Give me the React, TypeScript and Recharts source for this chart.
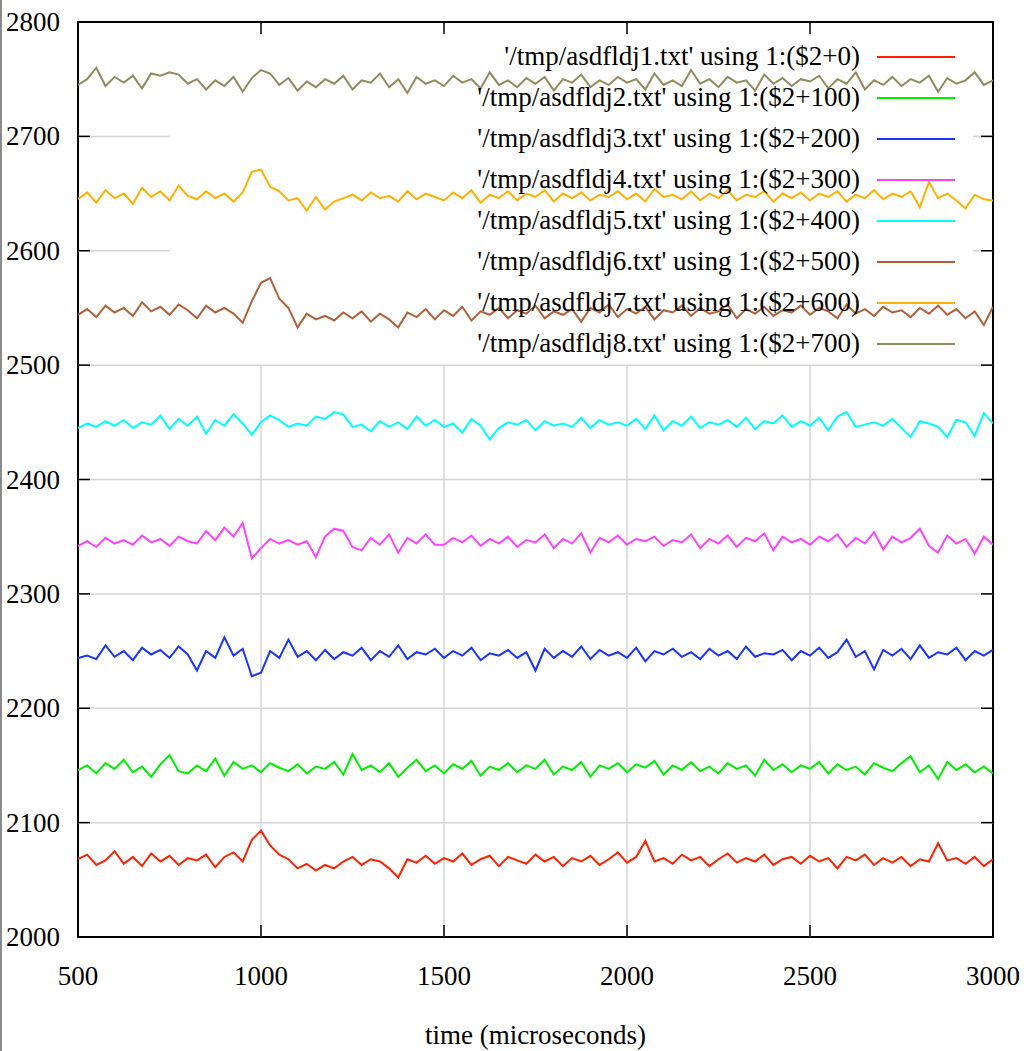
import { LineChart, Line, XAxis, YAxis, ReferenceLine, ReferenceArea, Legend } from "recharts";

// sample times (microseconds)
const times = [
  500, 525, 550, 575, 600, 625, 650, 675, 700, 725,
  750, 775, 800, 825, 850, 875, 900, 925, 950, 975,
  1000, 1025, 1050, 1075, 1100, 1125, 1150, 1175, 1200, 1225,
  1250, 1275, 1300, 1325, 1350, 1375, 1400, 1425, 1450, 1475,
  1500, 1525, 1550, 1575, 1600, 1625, 1650, 1675, 1700, 1725,
  1750, 1775, 1800, 1825, 1850, 1875, 1900, 1925, 1950, 1975,
  2000, 2025, 2050, 2075, 2100, 2125, 2150, 2175, 2200, 2225,
  2250, 2275, 2300, 2325, 2350, 2375, 2400, 2425, 2450, 2475,
  2500, 2525, 2550, 2575, 2600, 2625, 2650, 2675, 2700, 2725,
  2750, 2775, 2800, 2825, 2850, 2875, 2900, 2925, 2950, 2975,
  3000,
];

const file1 = [
  2068, 2072, 2063, 2067, 2075, 2064, 2070, 2062, 2073, 2066,
  2071, 2063, 2069, 2067, 2072, 2061, 2070, 2074, 2066, 2085,
  2093, 2080, 2072, 2068, 2060, 2064, 2058, 2063, 2060, 2066,
  2070, 2063, 2068, 2066, 2060, 2052, 2068, 2065, 2071, 2064,
  2069, 2066, 2073, 2063, 2068, 2071, 2062, 2070, 2067, 2064,
  2072, 2066, 2070, 2062, 2069, 2066, 2071, 2063, 2068, 2074,
  2065, 2070, 2084, 2066, 2069, 2064, 2072, 2067, 2070, 2062,
  2068, 2073, 2065, 2069, 2066, 2072, 2063, 2068, 2070, 2064,
  2071, 2066, 2069, 2060, 2070, 2067, 2072, 2063, 2069, 2065,
  2070, 2062, 2068, 2066, 2082, 2067, 2069, 2064, 2070, 2062,
  2068,
];

const file2 = [
  2146, 2150, 2143, 2152, 2147, 2155, 2144, 2149, 2140, 2151,
  2159, 2145, 2143, 2150, 2145, 2156, 2141, 2153, 2147, 2150,
  2144, 2152, 2148, 2145, 2151, 2143, 2149, 2147, 2153, 2142,
  2160, 2146, 2150, 2144, 2152, 2140, 2148, 2155, 2145, 2150,
  2143, 2151, 2147, 2154, 2141, 2149, 2146, 2152, 2144, 2150,
  2147, 2155, 2142, 2149, 2146, 2153, 2140, 2150, 2147, 2152,
  2144, 2151, 2148, 2154, 2142, 2150, 2146, 2153, 2145, 2149,
  2143, 2152, 2147, 2150, 2141, 2155, 2146, 2151, 2144, 2150,
  2147, 2153, 2143, 2151, 2146, 2149, 2142, 2152, 2148, 2145,
  2152, 2158, 2144, 2150, 2138, 2153, 2146, 2151, 2144, 2149,
  2143,
];

const file3 = [
  2244, 2246, 2243, 2255, 2245, 2250, 2242, 2253, 2247, 2251,
  2244, 2254, 2247, 2233, 2250, 2244, 2262, 2246, 2252, 2228,
  2231, 2250, 2244, 2260, 2245, 2250, 2242, 2251, 2243, 2249,
  2246, 2253, 2242, 2250, 2245, 2255, 2243, 2249, 2247, 2252,
  2244, 2250, 2246, 2253, 2242, 2248, 2246, 2251, 2244, 2249,
  2233, 2252, 2244, 2250, 2245, 2254, 2243, 2251, 2246, 2249,
  2244, 2253, 2241, 2250, 2247, 2252, 2245, 2249, 2243, 2252,
  2246, 2250, 2243, 2254, 2245, 2248, 2247, 2251, 2242, 2250,
  2246, 2253, 2244, 2249, 2260, 2245, 2250, 2234, 2251, 2246,
  2252, 2243, 2255, 2244, 2249, 2247, 2253, 2242, 2250, 2246,
  2251,
];

const file4 = [
  2342, 2346, 2341, 2349, 2344, 2347, 2343, 2351, 2345, 2348,
  2342, 2350, 2346, 2344, 2355, 2347, 2358, 2350, 2362, 2331,
  2340, 2348, 2344, 2347, 2343, 2346, 2332, 2350, 2357, 2355,
  2341, 2338, 2349, 2343, 2352, 2336, 2349, 2344, 2352, 2343,
  2343, 2349, 2345, 2351, 2342, 2348, 2344, 2350, 2341, 2347,
  2345, 2352, 2340, 2348, 2344, 2353, 2336, 2349, 2345, 2351,
  2343, 2348, 2346, 2350, 2342, 2347, 2345, 2352, 2340, 2348,
  2344, 2351, 2341, 2349, 2346, 2353, 2338, 2350, 2345, 2348,
  2343, 2350, 2346, 2352, 2341, 2349, 2344, 2354, 2339, 2350,
  2345, 2349, 2357, 2342, 2336, 2351, 2344, 2348, 2335, 2350,
  2343,
];

const file5 = [
  2445, 2449, 2446, 2451, 2447, 2452, 2445, 2450, 2448, 2456,
  2444, 2453, 2447, 2455, 2440, 2452, 2447, 2457, 2449, 2439,
  2450, 2456, 2452, 2446, 2449, 2447, 2455, 2453, 2459, 2457,
  2446, 2448, 2442, 2451, 2446, 2450, 2444, 2455, 2447, 2452,
  2446, 2449, 2441, 2453, 2447, 2435, 2445, 2450, 2448, 2452,
  2443, 2451, 2447, 2449, 2446, 2454, 2445, 2452, 2448, 2450,
  2447, 2453, 2444, 2456, 2443, 2451, 2447, 2455, 2445, 2450,
  2448, 2452, 2446, 2454, 2444, 2451, 2449, 2456, 2446, 2451,
  2447, 2454, 2443, 2455, 2459, 2446, 2448, 2450, 2447, 2453,
  2445, 2437, 2451, 2449, 2446, 2437, 2452, 2450, 2438, 2458,
  2449,
];

const file6 = [
  2544, 2549, 2542, 2552, 2546, 2550, 2543, 2555, 2547, 2551,
  2544, 2553, 2548, 2541, 2552, 2546, 2550, 2545, 2537, 2556,
  2572, 2576, 2558, 2550, 2533, 2545, 2540, 2543, 2539, 2546,
  2541, 2547, 2538, 2545, 2540, 2533, 2546, 2542, 2549, 2540,
  2548, 2543, 2551, 2539, 2547, 2544, 2550, 2541, 2548, 2545,
  2552, 2541, 2547, 2544, 2549, 2538, 2550, 2546, 2553, 2542,
  2549, 2545, 2551, 2540, 2548, 2546, 2552, 2543, 2550, 2545,
  2547, 2553, 2541, 2549, 2545, 2551, 2543, 2548, 2546, 2552,
  2544, 2550, 2547, 2541, 2553, 2545, 2549, 2543, 2551, 2546,
  2548, 2542, 2550, 2545, 2552, 2544, 2549, 2541, 2547, 2535,
  2551,
];

const file7 = [
  2645, 2651, 2642, 2653, 2646, 2650, 2641, 2655, 2647, 2652,
  2644, 2657, 2648, 2645, 2652, 2646, 2650, 2643, 2651, 2669,
  2671, 2656, 2652, 2644, 2646, 2635, 2647, 2636, 2643, 2646,
  2649, 2644, 2651, 2646, 2648, 2643, 2652, 2645, 2650, 2647,
  2644, 2651, 2646, 2653, 2642, 2649, 2646, 2652, 2644, 2650,
  2647, 2653, 2643, 2650, 2646, 2651, 2644, 2649, 2647, 2652,
  2645, 2650, 2643, 2654, 2647, 2649, 2645, 2652, 2644, 2650,
  2646, 2653, 2644, 2649, 2647, 2652, 2643, 2650, 2646, 2651,
  2644, 2650, 2647, 2652, 2643, 2649, 2646, 2653, 2645, 2650,
  2647, 2652, 2638, 2660, 2646, 2650, 2644, 2637, 2649, 2645,
  2644,
];

const file8 = [
  2745, 2750, 2760, 2744, 2752, 2747, 2753, 2742, 2755, 2753,
  2756, 2754, 2746, 2750, 2741, 2749, 2744, 2752, 2739, 2751,
  2758, 2755, 2745, 2751, 2740, 2748, 2743, 2750, 2746, 2753,
  2741, 2749, 2747, 2755, 2743, 2750, 2738, 2752, 2746, 2749,
  2744, 2753, 2747, 2750, 2742, 2756, 2745, 2749, 2743, 2751,
  2746, 2752, 2740, 2750, 2747, 2754, 2743, 2749, 2745, 2752,
  2747, 2750, 2741, 2755, 2745, 2749, 2744, 2758, 2746, 2750,
  2743, 2752, 2747, 2749, 2740, 2754, 2746, 2751, 2744, 2750,
  2748, 2753, 2742, 2750, 2746, 2756, 2741, 2749, 2745, 2752,
  2744, 2750, 2747, 2753, 2739, 2751, 2746, 2749, 2756, 2745,
  2749,
];

const seriesNames = [
  "'/tmp/asdfldj1.txt' using 1:($2+0)",
  "'/tmp/asdfldj2.txt' using 1:($2+100)",
  "'/tmp/asdfldj3.txt' using 1:($2+200)",
  "'/tmp/asdfldj4.txt' using 1:($2+300)",
  "'/tmp/asdfldj5.txt' using 1:($2+400)",
  "'/tmp/asdfldj6.txt' using 1:($2+500)",
  "'/tmp/asdfldj7.txt' using 1:($2+600)",
  "'/tmp/asdfldj8.txt' using 1:($2+700)",
];
const colors = ["#ff2200", "#00ee00", "#1a33ff", "#ff44ff", "#00ffff", "#b0603a", "#ffb000", "#8f8b5e"];
const xTicks = [500, 1000, 1500, 2000, 2500, 3000];
const yTicks = [2000, 2100, 2200, 2300, 2400, 2500, 2600, 2700, 2800];

const allFiles = [file1, file2, file3, file4, file5, file6, file7, file8];
const rows = times.map((t, i) => {
  const row: Record<string, number> = { t };
  allFiles.forEach((f, k) => (row["s" + k] = f[i]));
  return row;
});

const FONT = '"Liberation Serif", "Times New Roman", serif';
const FS = 27;
const PLOT_W = 915;
const PLOT_H = 915;
const GRID = "#d4d4d4";

const XTick = ({ x, y, payload }: any) => (
  <g>
    <line x1={x} y1={y} x2={x} y2={y - 12} stroke="#000" strokeWidth={1.5} />
    <line x1={x} y1={y - PLOT_H} x2={x} y2={y - PLOT_H + 12} stroke="#000" strokeWidth={1.5} />
    <text x={x} y={y + 39} textAnchor="middle" dominantBaseline="central" fontFamily={FONT} fontSize={FS} fill="#000">
      {payload.value}
    </text>
  </g>
);

const YTick = ({ x, y, payload }: any) => (
  <g>
    <line x1={x} y1={y} x2={x + 12} y2={y} stroke="#000" strokeWidth={1.5} />
    <line x1={x + PLOT_W} y1={y} x2={x + PLOT_W - 12} y2={y} stroke="#000" strokeWidth={1.5} />
    <text x={x - 18} y={y} textAnchor="end" dominantBaseline="central" fontFamily={FONT} fontSize={FS} fill="#000">
      {payload.value}
    </text>
  </g>
);

const KeyBox = ({ payload }: any) => (
  <div style={{ fontFamily: FONT, fontSize: FS, color: "#000" }}>
    {(payload || []).map((p: any) => (
      <div key={p.value} style={{ height: 41, display: "flex", alignItems: "center", justifyContent: "flex-end" }}>
        <span style={{ whiteSpace: "nowrap" }}>{p.value}</span>
        <span style={{ display: "inline-block", width: 78, height: 2, marginLeft: 17, background: p.color }} />
      </div>
    ))}
  </div>
);

export default function App() {
  return (
    <div style={{ position: "absolute", left: 0, top: 0, width: 1024, height: 1051, background: "#fff", overflow: "hidden" }}>
      <div style={{ position: "absolute", left: 0, top: 0, width: 2, height: 1051, background: "#8a8a8a" }} />
      <LineChart width={1024} height={1051} data={rows} margin={{ top: 22, right: 31, bottom: 0, left: 0 }}>
        <XAxis
          dataKey="t"
          type="number"
          domain={[500, 3000]}
          ticks={xTicks}
          allowDataOverflow
          height={114}
          axisLine={false}
          tickLine={false}
          tickSize={0}
          tickMargin={0}
          tick={<XTick />}
          interval={0}
        />
        <YAxis
          type="number"
          domain={[2000, 2800]}
          ticks={yTicks}
          allowDataOverflow
          width={78}
          axisLine={false}
          tickLine={false}
          tickSize={0}
          tickMargin={0}
          tick={<YTick />}
          interval={0}
        />
        {/* grid, kept clear of the key area like gnuplot does */}
        {[2100, 2200, 2300, 2400, 2500].map((v) => (
          <ReferenceLine key={"h" + v} y={v} stroke={GRID} strokeWidth={1.5} />
        ))}
        {[2600, 2700].map((v) => (
          <ReferenceLine key={"hl" + v} segment={[{ x: 500, y: v }, { x: 751, y: v }]} stroke={GRID} strokeWidth={1.5} />
        ))}
        {[2600, 2700].map((v) => (
          <ReferenceLine key={"hr" + v} segment={[{ x: 2945, y: v }, { x: 3000, y: v }]} stroke={GRID} strokeWidth={1.5} />
        ))}
        {[1000, 1500, 2000, 2500].map((v) => (
          <ReferenceLine key={"v" + v} segment={[{ x: v, y: 2000 }, { x: v, y: 2500 }]} stroke={GRID} strokeWidth={1.5} />
        ))}
        {allFiles.map((_, k) => (
          <Line
            key={k}
            type="linear"
            dataKey={"s" + k}
            name={seriesNames[k]}
            stroke={colors[k]}
            strokeWidth={2}
            dot={false}
            isAnimationActive={false}
          />
        ))}
        <ReferenceArea x1={500} x2={3000} y1={2000} y2={2800} fill="none" stroke="#000" strokeWidth={2} />
        <Legend
          layout="vertical"
          align="center"
          verticalAlign="middle"
          wrapperStyle={{ left: 0, top: 36, width: 955 }}
          content={<KeyBox />}
        />
      </LineChart>
      <div
        style={{
          position: "absolute",
          left: 78,
          width: 915,
          top: 1021,
          lineHeight: "28px",
          textAlign: "center",
          fontFamily: FONT,
          fontSize: FS,
        }}
      >
        time (microseconds)
      </div>
    </div>
  );
}
